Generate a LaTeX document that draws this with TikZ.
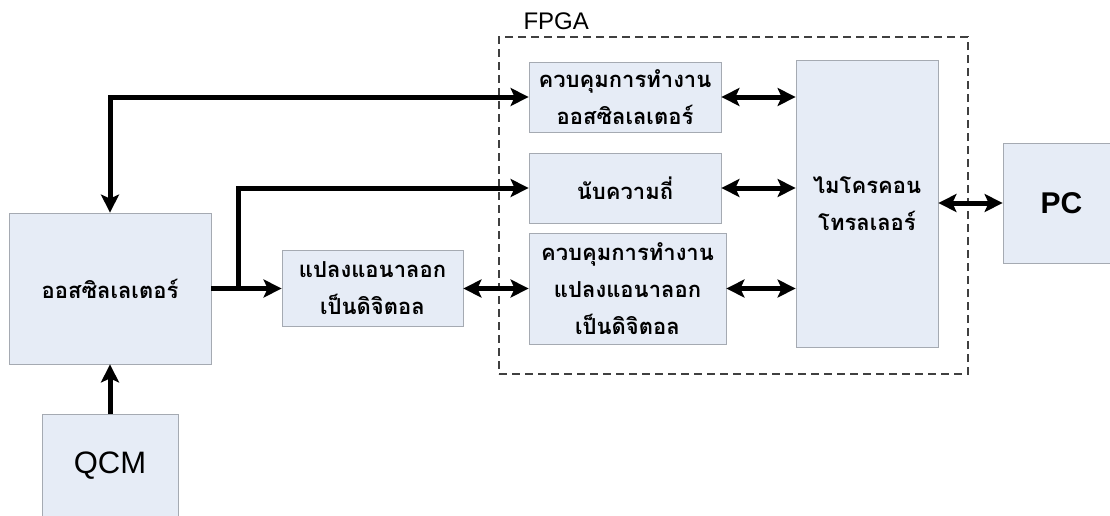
\documentclass[tikz,border=0pt]{standalone}
\usepackage{fontspec}
\setmainfont{Liberation Sans}
\newfontfamily\thaifont[Script=Thai]{Loma}
\usetikzlibrary{arrows.meta}
\definecolor{boxblue}{RGB}{230,236,246}
\definecolor{boxline}{RGB}{165,170,178}

\begin{document}
\begin{tikzpicture}[x=1pt,y=-1pt,line width=5pt,
    >={Stealth[length=18pt,width=18pt,inset=4pt]},
    block/.style={draw=boxline,line width=0.8pt,fill=boxblue,align=center,
      inner sep=0pt,font=\thaifont\bfseries\fontsize{22}{37}\selectfont},
    latin/.style={block,font=\fontsize{31}{31}\selectfont}]

  \useasboundingbox (0,0) rectangle (1110,515);

  % FPGA frame
  \node[draw=black!75,line width=1.3pt,dash pattern=on 8pt off 5pt,
    minimum width=469,minimum height=337,inner sep=0pt] (fpga) at (733.5,205.5) {};
  \node[anchor=base west,inner sep=0pt,font=\fontsize{24}{24}\selectfont]
    (fpgalabel) at (521,29) {FPGA};

  \node[block,minimum width=202,minimum height=151] (osc) at (110,288.5) {ออสซิลเลเตอร์};
  \node[latin,minimum width=136,minimum height=102] (qcm) at (110,465.5) {QCM};
  \node[block,minimum width=181,minimum height=76] (adc) at (372.5,288.5) {แปลงแอนาลอก\\เป็นดิจิตอล};
  \node[block,minimum width=192,minimum height=70] (ctrlosc) at (625,97) {ควบคุมการทำงาน\\ออสซิลเลเตอร์};
  \node[block,minimum width=192,minimum height=70] (counter) at (625,188) {นับความถี่};
  \node[block,minimum width=197,minimum height=111] (ctrladc) at (627.5,288.5) {ควบคุมการทำงาน\\แปลงแอนาลอก\\เป็นดิจิตอล};
  \node[block,minimum width=142,minimum height=287] (mcu) at (867,203.5) {ไมโครคอน\\โทรลเลอร์};
  \node[latin,font=\bfseries\fontsize{30}{30}\selectfont,minimum width=117,minimum height=120]
    (pc) at (1061.5,203) {PC};

  \coordinate (split) at (238,288.5);

  \draw[->] (qcm.north) -- (osc.south);
  \draw[->] (osc) -- (adc);
  \draw[->] (split) |- (counter.west);
  \draw[<->] (osc.north) |- (ctrlosc.west);
  \draw[<->] (adc) -- (ctrladc);
  \draw[<->] (ctrlosc.east) -- (ctrlosc.east -| mcu.west);
  \draw[<->] (counter.east) -- (counter.east -| mcu.west);
  \draw[<->] (ctrladc.east) -- (ctrladc.east -| mcu.west);
  \draw[<->] (mcu.east |- pc.west) -- (pc.west);

\end{tikzpicture}
\end{document}
